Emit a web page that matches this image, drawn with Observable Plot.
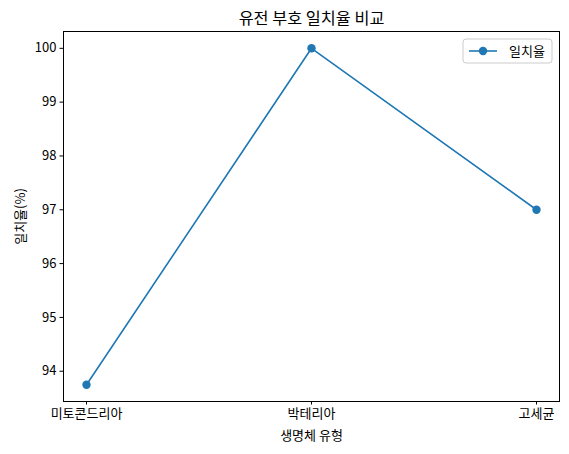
<!DOCTYPE html>
<html><head><meta charset="utf-8">
<script src="https://cdn.jsdelivr.net/npm/d3@7"></script>
<script src="https://cdn.jsdelivr.net/npm/@observablehq/plot@0.6"></script>
<style>
html,body{margin:0;padding:0;background:#fff;}
#chart svg{display:block;}
</style>
</head><body><div id="chart"></div>
<script>
const categories = ["미토콘드리아", "박테리아", "고세균"];
const matchRate = [93.75, 100, 97];
const yTicks = [94, 95, 96, 97, 98, 99, 100];
const title = "유전 부호 일치율 비교";
const xLabel = "생명체 유형";
const yLabel = "일치율(%)";
const seriesName = "일치율";

const data = categories.map((c, i) => ({type: c, value: matchRate[i]}));
const color = "#1f77b4";
const font = "Noto Sans CJK KR, Noto Sans, sans-serif";
const lo = Math.min(...matchRate), hi = Math.max(...matchRate), pad = (hi - lo) * 0.05;
const mTop = 31, mLeft = 63, mRight = 10, mBottom = 53, W = 569, H = 454;
const fs = 13;

const chart = Plot.plot({
  width: W, height: H,
  marginTop: mTop, marginLeft: mLeft, marginRight: mRight, marginBottom: mBottom,
  style: {fontFamily: font, fontSize: fs + "px", color: "#000", background: "#fff"},
  x: {type: "point", domain: categories, padding: 0.1, label: null},
  y: {domain: [lo - pad, hi + pad], label: null},
  marks: [
    Plot.frame({stroke: "#000", strokeWidth: 1}),
    Plot.axisY({ticks: yTicks, tickFormat: "d", tickSize: 3.5, tickPadding: 3.5, fontSize: fs, label: yLabel, labelAnchor: "center", labelOffset: 48, labelArrow: false, stroke: "#000", color: "#000"}),
    Plot.axisX({tickSize: 3.5, tickPadding: 4, fontSize: fs, label: xLabel, labelAnchor: "center", labelOffset: 38, labelArrow: false, stroke: "#000", color: "#000"}),
    Plot.line(data, {x: "type", y: "value", stroke: color, strokeWidth: 1.6}),
    Plot.dot(data, {x: "type", y: "value", fill: color, r: 4.2}),
    Plot.text([title], {frameAnchor: "top", dy: -19, fontSize: 16.3, fill: "#000", text: d => d})
  ]
});
document.getElementById("chart").appendChild(chart);

// legend
const svg = d3.select(chart);
const rEdge = W - mRight;
const g = svg.append("g");
g.append("rect").attr("x", rEdge - 96).attr("y", mTop + 8).attr("width", 89).attr("height", 24)
  .attr("rx", 3).attr("fill", "#fff").attr("stroke", "#ccc").attr("stroke-width", 1);
g.append("line").attr("x1", rEdge - 90).attr("x2", rEdge - 62).attr("y1", mTop + 20).attr("y2", mTop + 20)
  .attr("stroke", color).attr("stroke-width", 1.6);
g.append("circle").attr("cx", rEdge - 76).attr("cy", mTop + 20).attr("r", 4.2).attr("fill", color);
g.append("text").attr("x", rEdge - 50).attr("y", mTop + 20).attr("dy", "0.35em")
  .attr("text-anchor", "start").attr("font-size", fs).attr("font-family", font).text(seriesName);
</script>
</body></html>
